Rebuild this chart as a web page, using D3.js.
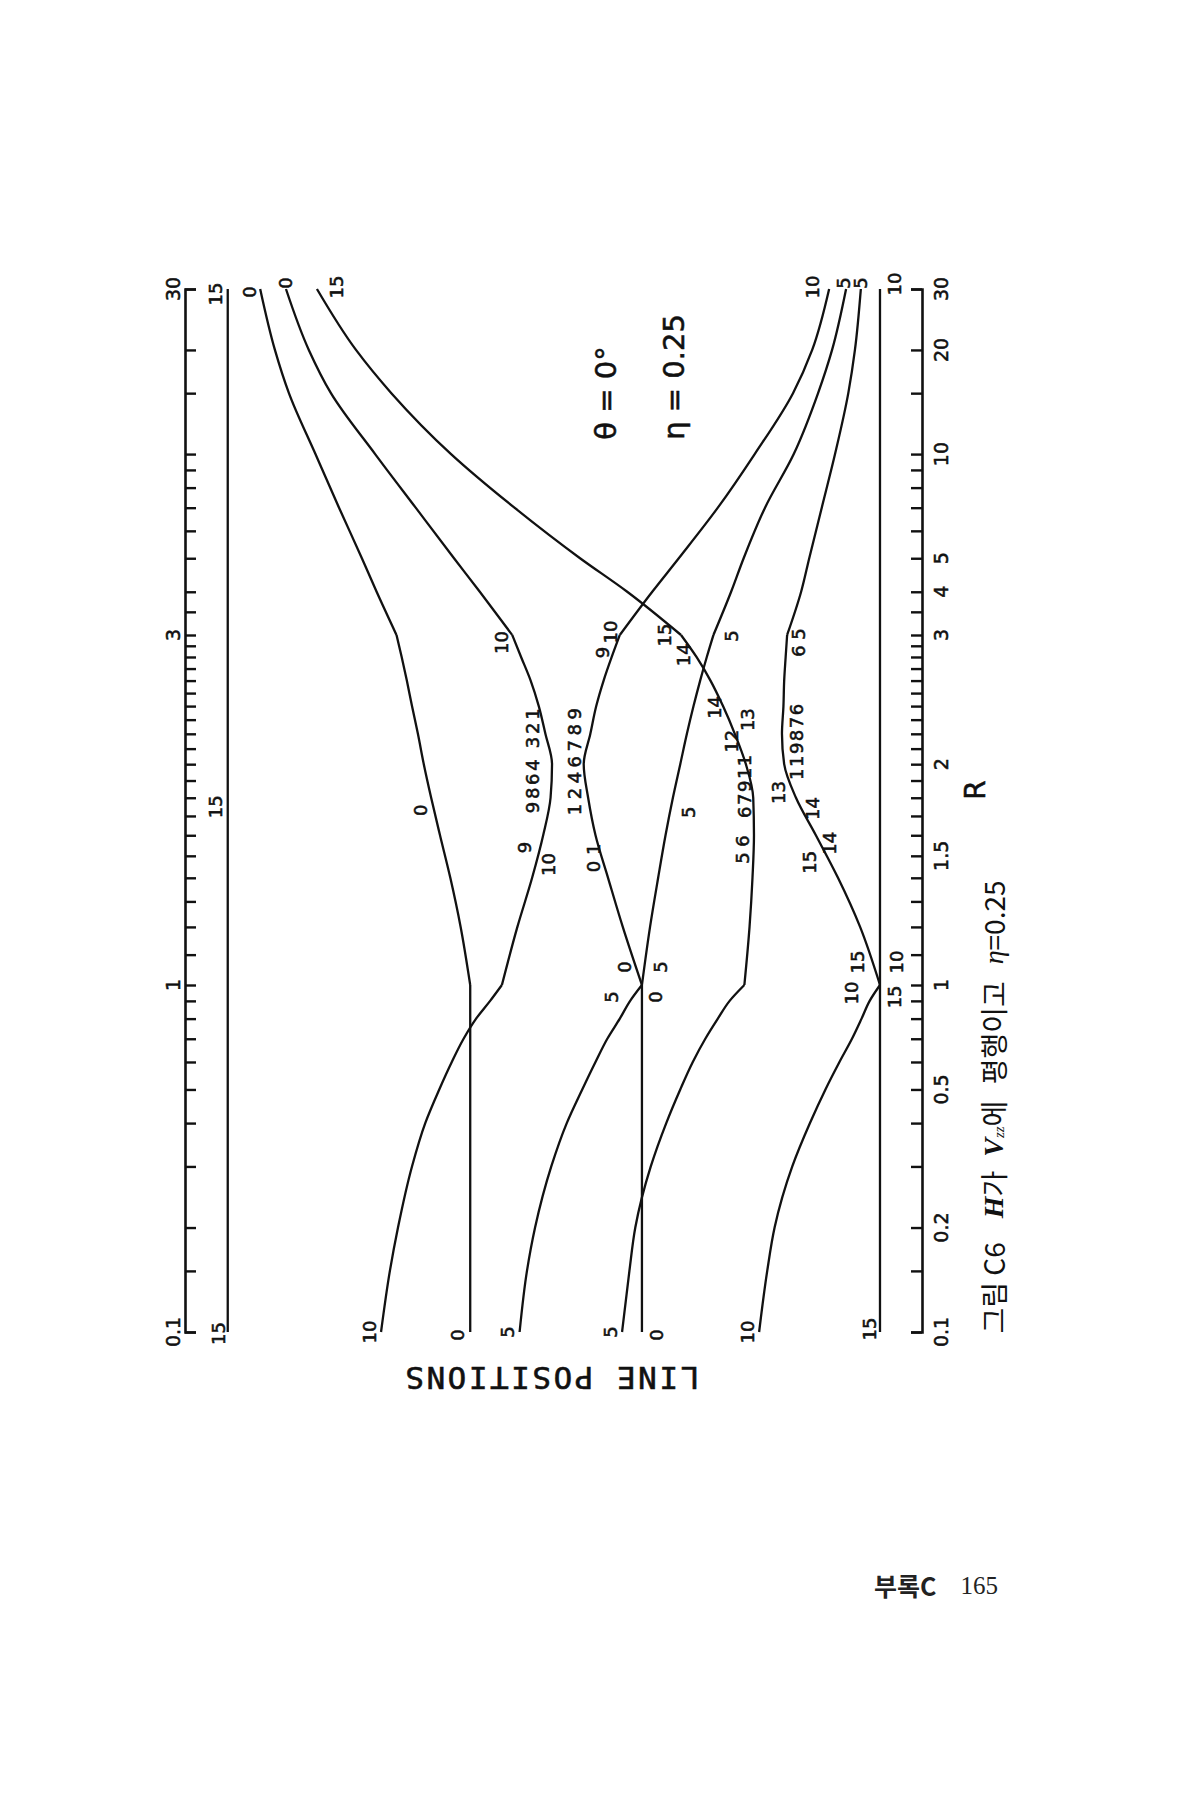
<!DOCTYPE html>
<html><head><meta charset="utf-8">
<script src="https://cdn.jsdelivr.net/npm/d3@7"></script>
<style>
body{margin:0;background:#ffffff;}
svg{display:block;}
.num{font-family:"DejaVu Sans",sans-serif;fill:#111;stroke:#111;stroke-width:0.55px;}
</style></head><body>
<svg id="chart" width="1200" height="1800"></svg>
<script>
// ---------------- DATA ----------------
// R sample values for the three piecewise-log sections of the R axis
const rLow  = [0.1,0.15,0.2,0.3,0.4,0.5,0.6,0.7,0.8,0.9,1];
const rMid  = [1,1.2,1.4,1.6,1.8,2,2.2,2.4,2.6,2.8,3];
const rHigh = [3,4,5,7,10,15,20,30];

// line positions (relative units 0..100 between the two R axes)
const lowBranches = [
  [5.8,5.8,5.8,5.8,5.8,5.8,5.8,5.8,5.8,5.8,5.8],
  [26.6,27.8,28.9,30.8,32.6,34.5,36.2,37.8,39.5,41.4,43.0],
  [38.7,38.7,38.7,38.7,38.7,38.7,38.7,38.7,38.7,38.7,38.7],
  [45.4,46.4,47.5,49.7,51.8,53.9,55.7,57.3,59.0,60.4,62.0],
  [59.3,60.3,61.1,63.2,65.3,67.2,68.9,70.6,72.3,73.9,75.9],
  [62.0,62.0,62.0,62.0,62.0,62.0,62.0,62.0,62.0,62.0,62.0],
  [77.9,79.0,80.0,82.4,84.8,86.9,88.8,90.5,91.8,92.9,94.3],
  [94.3,94.3,94.3,94.3,94.3,94.3,94.3,94.3,94.3,94.3,94.3]
];
const midBranches = [
  [5.8,5.8,5.8,5.8,5.8,5.8,5.8,5.8,5.8,5.8,5.8],
  [38.7,37.4,36.0,34.6,33.4,32.4,31.6,30.8,30.1,29.4,28.7],
  [43.0,45.1,47.1,48.6,49.6,49.8,48.9,48.0,46.9,45.6,44.4],
  [75.9,76.6,77.0,77.2,77.1,76.1,74.6,73.0,71.3,69.4,67.3],
  [62.0,59.4,57.4,55.7,54.7,54.1,55.0,55.8,56.8,57.9,59.0],
  [62.0,63.1,64.2,65.2,66.2,67.2,68.1,69.0,69.9,70.8,71.7],
  [94.3,91.6,88.6,85.6,82.9,81.3,81.0,81.2,81.3,81.5,81.7],
  [94.3,94.3,94.3,94.3,94.3,94.3,94.3,94.3,94.3,94.3,94.3]
];
const highBranches = [
  [5.8,5.8,5.8,5.8,5.8,5.8,5.8,5.8],
  [28.7,26.0,24.0,20.9,17.7,14.1,12.2,10.2],
  [44.4,40.0,36.5,31.3,25.8,19.8,16.8,13.7],
  [67.3,60.0,53.6,44.7,36.1,28.0,23.2,17.9],
  [59.0,63.4,67.0,72.3,77.3,82.5,85.1,87.4],
  [71.7,74.1,75.8,78.7,82.6,85.9,87.8,89.7],
  [81.7,83.6,84.7,86.4,88.2,90.0,90.9,91.7],
  [94.3,94.3,94.3,94.3,94.3,94.3,94.3,94.3]
];

// branch labels: [text, R, position]
const endLabels = [
  ["15",29.0,4.2],["0",29.4,8.8],["0",31.2,13.6],["15",30.4,20.5],
  ["10",30.4,85.1],["5",31.2,89.3],["5",31.2,91.6],["10",31.0,96.3],
  ["15",0.099,4.5],["10",0.1,25.1],["0",0.098,37.0],["5",0.1,43.7],
  ["5",0.1,57.7],["0",0.098,64.0],["10",0.1,76.3],["15",0.102,92.9]
];
const midLabels = [
  ["15",1.75,4.2],["0",1.73,32.0],["10",2.93,43.0],["9864 321",2.03,47.2],
  ["9",1.54,46.0],["10",1.46,49.3],["1246789",2.03,52.9],["0 1",1.49,55.4],
  ["10",3.06,57.7],["9",2.84,56.7],["15",3.0,65.1],["14",2.82,67.6],
  ["5",2.99,74.2],["14",2.39,71.9],["13",2.30,76.3],["12",2.15,74.1],
  ["67911",1.87,75.9],["5 6",1.53,75.6],["5",1.72,68.3],["6 5",2.93,83.2],
  ["119876",2.15,83.0],["13",1.83,80.5],["14",1.74,85.1],["15",1.47,84.8],
  ["14",1.56,87.5],["15",1.075,91.3],["10",1.075,96.6],["0",1.058,59.7],
  ["5",1.058,64.5],["5",0.924,57.9],["0",0.924,63.8],["10",0.948,90.5],
  ["15",0.924,96.3]
];

// R axis ticks and labels
const tickR = [0.1,0.15,0.2,0.3,0.4,0.5,0.6,0.7,0.8,0.9,1,
  1.1,1.2,1.3,1.4,1.5,1.6,1.7,1.8,1.9,2,2.1,2.2,2.3,2.4,2.5,2.6,2.7,2.8,2.9,3,
  3.5,4,5,6,7,8,9,10,15,20,30];
const rightTickLabels = ["0.1","0.2","0.5","1","1.5","2","3","4","5","10","20","30"];
const leftTickLabels = ["0.1","1","3","30"];

const paramText = ["θ = 0°","η = 0.25"];
const xTitle = "LINE POSITIONS";
const yTitle = "R";

// ---------------- DRAW ----------------
const svg = d3.select("#chart");
svg.append("rect").attr("width",1200).attr("height",1800).attr("fill","#ffffff");

const x = d3.scaleLinear().domain([0,100]).range([185,922]);
const yLog = d3.scaleLinear()
  .domain([Math.log10(0.1),0,Math.log10(3),Math.log10(30)])
  .range([1332,985,635,289]);
const y = r => yLog(Math.log10(r));

// axes
const axL = d3.axisLeft(yLog).tickValues(tickR.map(Math.log10))
  .tickSizeInner(-11).tickSizeOuter(-11).tickFormat("");
const axR = d3.axisRight(yLog).tickValues(tickR.map(Math.log10))
  .tickSizeInner(-11).tickSizeOuter(-11).tickFormat("");
const gL = svg.append("g").attr("transform","translate("+x(0)+",0)").call(axL);
const gR = svg.append("g").attr("transform","translate("+x(100)+",0)").call(axR);
[gL,gR].forEach(g=>{
  g.select(".domain").attr("stroke","#111").attr("stroke-width",2.6).attr("fill","none");
  g.selectAll(".tick line").attr("stroke","#111").attr("stroke-width",2.4);
});

function rotLabel(txt, cx, cy, size, cls, spacing){
  return svg.append("text").attr("class",cls||"num")
    .attr("transform","translate("+cx+","+cy+") rotate(-90)")
    .attr("text-anchor","middle").attr("dominant-baseline","central")
    .style("font-size",size+"px")
    .style("letter-spacing",(spacing||0)+"px")
    .text(txt);
}
rightTickLabels.forEach(t=>rotLabel(t, x(100)+19, y(+t), 19));
leftTickLabels.forEach(t=>rotLabel(t, x(0)-12, y(+t), 19));

// curves
const line = d3.line().x(d=>x(d[1])).y(d=>y(d[0])).curve(d3.curveMonotoneY);
const gC = svg.append("g");
[[rLow,lowBranches],[rMid,midBranches],[rHigh,highBranches]].forEach(([rs,brs])=>{
  brs.forEach(b=>{
    const pts = rs.map((r,i)=>[r,b[i]]).reverse();
    gC.append("path").attr("d",line(pts)).attr("fill","none")
      .attr("stroke","#111").attr("stroke-width",2.3).attr("stroke-linejoin","round");
  });
});

// branch labels
function spacingFor(t){
  if (t.length===7) return 4.5;
  if (t.length===8) return 2.7;
  if (t.length>=5) return 1.5;
  return 0;
}
endLabels.concat(midLabels).forEach(([t,r,p])=>rotLabel(t, x(p), y(r), 18, "num", spacingFor(t)));

// parameters
rotLabel(paramText[0], 606, 393, 29, "num", 0);
rotLabel(paramText[1], 674, 377, 29, "num", 0);

// axis titles
rotLabel(yTitle, 975, 790, 28, "num", 0);
svg.append("text").attr("transform","translate(551,1378) rotate(180)")
  .attr("text-anchor","middle").attr("dominant-baseline","central")
  .style("font-family","'DejaVu Sans Mono',monospace").style("font-size","31px")
  .style("letter-spacing","2.5px").attr("fill","#111")
  .attr("stroke","#111").attr("stroke-width",0.6).text(xTitle);

// caption
const serif = "'Liberation Serif',serif";
const cap = svg.append("text").attr("transform","translate(993,1107) rotate(-90)")
  .attr("text-anchor","middle").attr("dominant-baseline","central")
  .style("font-size","28px").attr("fill","#111")
  .style("font-family","'Noto Sans CJK KR',sans-serif");
cap.append("tspan").text("그림 C6");
cap.append("tspan").attr("dx",24).text("H")
  .style("font-family",serif).style("font-style","italic").style("font-weight","bold");
cap.append("tspan").text("가");
cap.append("tspan").attr("dx",14).text("V")
  .style("font-family",serif).style("font-style","italic").style("font-weight","bold");
cap.append("tspan").attr("dy",6).text("zz")
  .style("font-family",serif).style("font-style","italic").style("font-size","15px");
cap.append("tspan").attr("dy",-6).text("에");
cap.append("tspan").attr("dx",10).text(" 평행이고");
cap.append("tspan").attr("dx",10).text(" η")
  .style("font-family",serif).style("font-style","italic");
cap.append("tspan").text("=0.25");

// page footer
const foot = svg.append("text").attr("x",936).attr("y",1585)
  .attr("text-anchor","middle").attr("dominant-baseline","central")
  .style("font-size","25px").attr("fill","#222");
foot.append("tspan").text("부록C").style("font-family","'Noto Sans CJK KR',sans-serif").style("font-weight","bold");
foot.append("tspan").attr("dx",24).text("165").style("font-family",serif);
</script>
</body></html>
